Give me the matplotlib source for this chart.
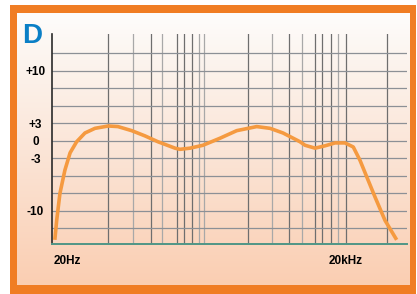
import numpy as np
import matplotlib
matplotlib.use('Agg')
import matplotlib.pyplot as plt
from matplotlib.patches import Rectangle
from matplotlib.ticker import NullLocator

# response curve (Hz, dB)
freq = [14.8, 15.5, 16.8, 19.0, 21.6, 25.4, 31.2, 40.0, 55.6, 70.6, 99.3, 138, 190, 290,
        328, 421, 580, 883, 1337, 2193, 3048, 4207, 6400, 7246, 9290, 11890, 15240,
        19510, 23950, 28290, 33420, 41050, 52500, 70100]
level = [-13.9, -11.3, -7.7, -4.6, -2.1, -0.2, 1.3, 2.1, 2.5, 2.4, 1.7, 0.8, -0.2, -1.3,
         -1.5, -1.3, -0.8, 0.4, 1.7, 2.4, 2.1, 1.3, -0.2, -0.8, -1.3, -0.9, -0.4,
         -0.4, -1.1, -3.3, -5.5, -8.2, -11.3, -13.9]

ytick_vals = [10, 3, 0, -3, -10]
ytick_labels = ['+10', '+3', '0', '-3', '-10']
xtick_vals = [20, 20000]
xtick_labels = ['20Hz', '20kHz']
# vertical grid lines of the (stylised) log grid
vgrid = [55, 102, 160, 210, 305, 362, 442, 525, 594, 1766, 3200, 4876, 6730,
         9290, 11040, 13800, 16400, 20000, 55200]
vgrid_dark = [1, 0, 1, 0, 1, 1, 1, 0, 0, 1, 0, 1, 0, 1, 1, 1, 0, 1, 1]


# dB axis: 3 dB per grid step near 0, 7/3 dB per step beyond +-3
def fwd(d):
    d = np.asarray(d, float)
    a = np.abs(d)
    return np.sign(d) * np.where(a <= 3, a / 3, 1 + (a - 3) * 3 / 7)


def inv(u):
    u = np.asarray(u, float)
    a = np.abs(u)
    return np.sign(u) * np.where(a <= 1, 3 * a, 3 + (a - 1) * 7 / 3)


W, H = 417, 294
fig = plt.figure(figsize=(W / 100, H / 100), dpi=100)
fig.patch.set_facecolor('white')

bg = fig.add_axes([0, 0, 1, 1])
bg.set_xlim(0, W)
bg.set_ylim(H, 0)
bg.axis('off')
bg.add_patch(Rectangle((10, 5), 406, 292, facecolor='#f07d24', edgecolor='none'))

# peach gradient inside the frame
rows = np.arange(13, 286)
ys = [13, 60, 150, 285]
cols = np.array([[254, 253, 252], [252, 244, 238], [251, 229, 215], [250, 206, 178]]) / 255
grad = np.stack([np.interp(rows, ys, cols[:, c]) for c in range(3)], axis=1)
grad = np.repeat(grad[:, None, :], 2, axis=1)
bg.imshow(grad, extent=(17, 410, 285, 13), aspect='auto', interpolation='bilinear', zorder=1)

bg.text(22, 43, 'D', color='#0a7fc6', fontsize=20, fontweight='bold',
        family=['Liberation Sans', 'DejaVu Sans'], va='baseline', ha='left', zorder=2)

ax = fig.add_axes([52 / W, (H - 244) / H, (407 - 52) / W, (244 - 34) / H])
ax.set_facecolor('none')
ax.set_xscale('log')
ax.set_yscale('function', functions=(fwd, inv))
ax.set_xlim(13.8, 90560)
ax.set_ylim(float(inv(-5.91)), float(inv(6.09)))

for f, dk in zip(vgrid, vgrid_dark):
    ax.axvline(f, color='#6e6e6e' if dk else '#a8a8a8', lw=0.9, zorder=1)
for u in range(-5, 6):
    ax.axhline(float(inv(u)), color='#8c9096', lw=0.9, zorder=1)

ax.plot(freq, level, color='#f59a40', lw=2.6, solid_capstyle='butt',
        solid_joinstyle='round', zorder=3)

for s in ['top', 'right']:
    ax.spines[s].set_visible(False)
ax.spines['left'].set_color('#2a2a2a')
ax.spines['left'].set_linewidth(1.2)
ax.spines['bottom'].set_color('#4f9686')
ax.spines['bottom'].set_linewidth(1.4)

tick_font = dict(family=['Liberation Sans', 'DejaVu Sans'], weight='bold', size=8.5)
ax.set_yticks(ytick_vals)
ax.set_yticklabels(ytick_labels, ha='center', **tick_font)
ax.yaxis.set_minor_locator(NullLocator())
ax.tick_params(axis='y', length=0, pad=11.9)

ax.set_xticks(xtick_vals)
ax.set_xticklabels(xtick_labels, **tick_font)
ax.xaxis.set_minor_locator(NullLocator())
ax.tick_params(axis='x', length=0, pad=8)

fig.savefig('out.png', dpi=100)
